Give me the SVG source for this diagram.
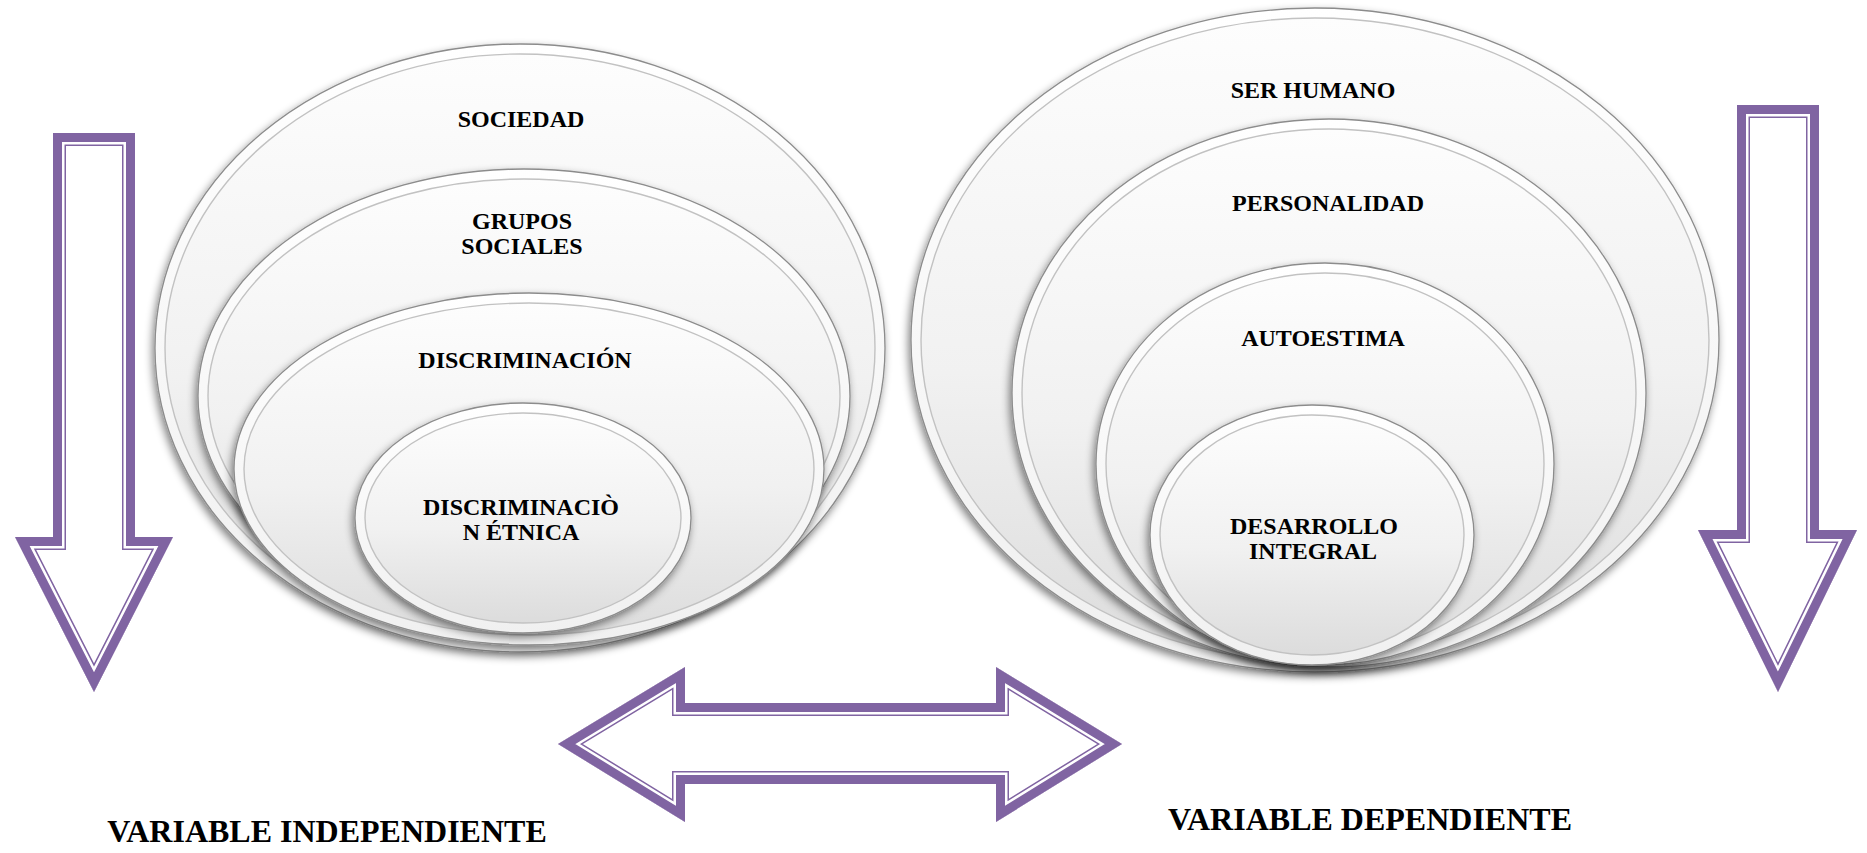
<svg xmlns="http://www.w3.org/2000/svg" xmlns:xlink="http://www.w3.org/1999/xlink" width="1867" height="853" viewBox="0 0 1867 853">
<style>
  .rim { fill: url(#gRim); stroke: #8c8c8c; stroke-width: 1.3; filter: url(#sh); }
  .body { fill: url(#gBody); stroke: #c2c2c2; stroke-width: 1.4; }
  .lbl { font-family: "Liberation Serif", "Times New Roman", serif; font-weight: bold; font-size: 24px; fill: #000; text-anchor: middle; }
  .var { font-family: "Liberation Serif", "Times New Roman", serif; font-weight: bold; font-size: 32px; fill: #000; text-anchor: middle; }
  .b1 { fill: #fff; stroke: #8064A2; stroke-width: 26; stroke-linejoin: miter; }
  .b2 { fill: none; stroke: #fff; stroke-width: 23; stroke-linejoin: miter; }
  .b3 { fill: none; stroke: #8064A2; stroke-width: 18; stroke-linejoin: miter; }
</style>
<defs>
  <linearGradient id="gRim" x1="0" y1="0" x2="0" y2="1">
    <stop offset="0" stop-color="#ffffff"/>
    <stop offset="1" stop-color="#f0f0f0"/>
  </linearGradient>
  <linearGradient id="gBody" x1="0" y1="0" x2="0" y2="1">
    <stop offset="0" stop-color="#fdfdfd"/>
    <stop offset="0.55" stop-color="#f1f1f1"/>
    <stop offset="1" stop-color="#dcdcdc"/>
  </linearGradient>
  <filter id="sh" x="-10%" y="-10%" width="120%" height="130%">
    <feGaussianBlur in="SourceAlpha" stdDeviation="4"/>
    <feOffset dx="-2" dy="4" result="o"/>
    <feComponentTransfer><feFuncA type="linear" slope="0.5"/></feComponentTransfer>
    <feMerge><feMergeNode/><feMergeNode in="SourceGraphic"/></feMerge>
  </filter>
  <polygon id="pL" points="53,133 135,133 135,537 173,537 94,692 15,537 53,537"/>
  <polygon id="pR" points="1737,105 1819,105 1819,530 1857,530 1778,692 1698,530 1737,530"/>
  <polygon id="pD" points="558,744 685,667 685,703 996,703 996,667 1122,744 996,822 996,784 685,784 685,822"/>
  <clipPath id="cL"><use xlink:href="#pL"/></clipPath>
  <clipPath id="cR"><use xlink:href="#pR"/></clipPath>
  <clipPath id="cD"><use xlink:href="#pD"/></clipPath>
</defs>
<rect width="1867" height="853" fill="#fff"/>

<!-- left nested ellipses -->
<g id="n-sociedad">
  <ellipse class="rim" cx="520" cy="348" rx="365" ry="304"/>
  <ellipse class="body" cx="520" cy="348" rx="355" ry="294"/>
  <text class="lbl" x="521" y="127">SOCIEDAD</text>
</g>
<g id="n-grupos">
  <ellipse class="rim" cx="524" cy="396" rx="326" ry="227"/>
  <ellipse class="body" cx="524" cy="396" rx="316" ry="217"/>
  <text class="lbl" x="522" y="229">GRUPOS</text>
  <text class="lbl" x="522" y="254">SOCIALES</text>
</g>
<g id="n-discriminacion">
  <ellipse class="rim" cx="529" cy="469" rx="295" ry="176"/>
  <ellipse class="body" cx="529" cy="469" rx="285" ry="166"/>
  <text class="lbl" x="525" y="368">DISCRIMINACIÓN</text>
</g>
<g id="n-etnica">
  <ellipse class="rim" cx="523" cy="518" rx="168" ry="115"/>
  <ellipse class="body" cx="523" cy="518" rx="158" ry="105"/>
  <text class="lbl" x="521" y="515">DISCRIMINACIÒ</text>
  <text class="lbl" x="521" y="540">N ÉTNICA</text>
</g>

<!-- right nested ellipses -->
<g id="n-ser-humano">
  <ellipse class="rim" cx="1315" cy="340" rx="404" ry="332"/>
  <ellipse class="body" cx="1315" cy="340" rx="394" ry="322"/>
  <text class="lbl" x="1313" y="98">SER HUMANO</text>
</g>
<g id="n-personalidad">
  <ellipse class="rim" cx="1329" cy="393" rx="317" ry="274"/>
  <ellipse class="body" cx="1329" cy="393" rx="307" ry="264"/>
  <text class="lbl" x="1328" y="211">PERSONALIDAD</text>
</g>
<g id="n-autoestima">
  <ellipse class="rim" cx="1325" cy="464" rx="229" ry="201"/>
  <ellipse class="body" cx="1325" cy="464" rx="219" ry="191"/>
  <text class="lbl" x="1323" y="346">AUTOESTIMA</text>
</g>
<g id="n-desarrollo">
  <ellipse class="rim" cx="1312" cy="535" rx="162" ry="130"/>
  <ellipse class="body" cx="1312" cy="535" rx="152" ry="120"/>
  <text class="lbl" x="1314" y="534">DESARROLLO</text>
  <text class="lbl" x="1313" y="559">INTEGRAL</text>
</g>

<!-- down arrows -->
<g id="arrow-left" clip-path="url(#cL)">
  <use xlink:href="#pL" class="b1"/>
  <use xlink:href="#pL" class="b2"/>
  <use xlink:href="#pL" class="b3"/>
</g>
<g id="arrow-right" clip-path="url(#cR)">
  <use xlink:href="#pR" class="b1"/>
  <use xlink:href="#pR" class="b2"/>
  <use xlink:href="#pR" class="b3"/>
</g>

<!-- connectors -->
<g id="connectors">
  <g clip-path="url(#cD)">
    <use xlink:href="#pD" class="b1"/>
    <use xlink:href="#pD" class="b2"/>
    <use xlink:href="#pD" class="b3"/>
  </g>
</g>

<g id="labels">
  <text class="var" x="327" y="842">VARIABLE INDEPENDIENTE</text>
  <text class="var" x="1370" y="830">VARIABLE DEPENDIENTE</text>
</g>
</svg>
